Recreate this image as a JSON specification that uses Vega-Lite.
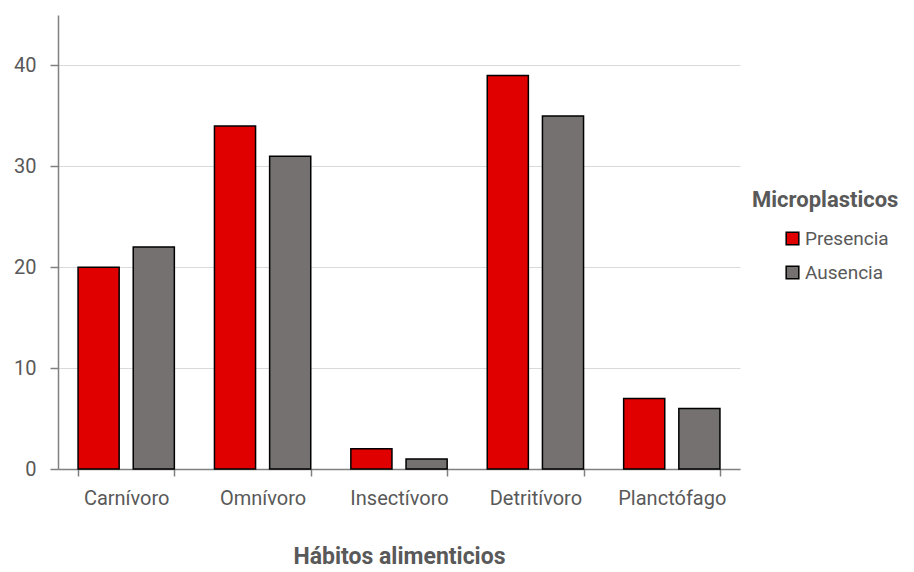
{
  "$schema": "https://vega.github.io/schema/vega-lite/v6.json",
  "width": 682,
  "height": 454,
  "autosize": {"type": "none"},
  "padding": {"left": 58, "top": 15, "right": 174, "bottom": 103},
  "background": "white",
  "config": {
    "view": {"stroke": null},
    "font": "Roboto"
  },
  "data": {
    "values": [
      {"habito": "Carnívoro", "microplasticos": "Presencia", "n": 20},
      {"habito": "Carnívoro", "microplasticos": "Ausencia", "n": 22},
      {"habito": "Omnívoro", "microplasticos": "Presencia", "n": 34},
      {"habito": "Omnívoro", "microplasticos": "Ausencia", "n": 31},
      {"habito": "Insectívoro", "microplasticos": "Presencia", "n": 2},
      {"habito": "Insectívoro", "microplasticos": "Ausencia", "n": 1},
      {"habito": "Detritívoro", "microplasticos": "Presencia", "n": 39},
      {"habito": "Detritívoro", "microplasticos": "Ausencia", "n": 35},
      {"habito": "Planctófago", "microplasticos": "Presencia", "n": 7},
      {"habito": "Planctófago", "microplasticos": "Ausencia", "n": 6}
    ]
  },
  "mark": {"type": "bar", "stroke": "black", "strokeWidth": 1.5},
  "encoding": {
    "x": {
      "field": "habito",
      "type": "nominal",
      "sort": ["Carnívoro", "Omnívoro", "Insectívoro", "Detritívoro", "Planctófago"],
      "scale": {"paddingInner": 0.294, "paddingOuter": 0.147},
      "axis": {
        "title": "Hábitos alimenticios",
        "titleFont": "Roboto",
        "titleFontSize": 23,
        "titleFontWeight": "bold",
        "titleColor": "#595959",
        "titlePadding": 37,
        "labelAngle": 0,
        "labelFont": "Roboto",
        "labelFontSize": 20,
        "labelColor": "#595959",
        "labelPadding": 12,
        "tickBand": "extent",
        "tickColor": "#808080",
        "tickWidth": 1.5,
        "tickSize": 7,
        "domainColor": "#808080",
        "domainWidth": 1.5,
        "grid": false
      }
    },
    "xOffset": {
      "field": "microplasticos",
      "type": "nominal",
      "sort": ["Presencia", "Ausencia"],
      "scale": {"paddingInner": 0.255}
    },
    "y": {
      "field": "n",
      "type": "quantitative",
      "scale": {"domain": [0, 45], "nice": false},
      "axis": {
        "title": null,
        "values": [0, 10, 20, 30, 40],
        "labelFont": "Roboto",
        "labelFontSize": 20,
        "labelColor": "#595959",
        "labelPadding": 14,
        "tickColor": "#808080",
        "tickWidth": 1.5,
        "tickSize": 8,
        "domainColor": "#808080",
        "domainWidth": 1.5,
        "gridColor": "#d9d9d9",
        "gridWidth": 1
      }
    },
    "color": {
      "field": "microplasticos",
      "type": "nominal",
      "sort": ["Presencia", "Ausencia"],
      "scale": {"domain": ["Presencia", "Ausencia"], "range": ["#e00000", "#767171"]},
      "legend": {
        "title": "Microplasticos",
        "orient": "none",
        "legendX": 694,
        "legendY": 175,
        "titleFont": "Roboto",
        "titleFontSize": 22,
        "titleFontWeight": "bold",
        "titleColor": "#595959",
        "titlePadding": 17,
        "labelFont": "Roboto",
        "labelFontSize": 19,
        "labelColor": "#595959",
        "labelOffset": 3,
        "symbolType": "square",
        "symbolSize": 160,
        "symbolStrokeColor": "black",
        "symbolStrokeWidth": 1.5,
        "symbolOffset": 31,
        "rowPadding": 14,
        "padding": 0
      }
    }
  }
}
